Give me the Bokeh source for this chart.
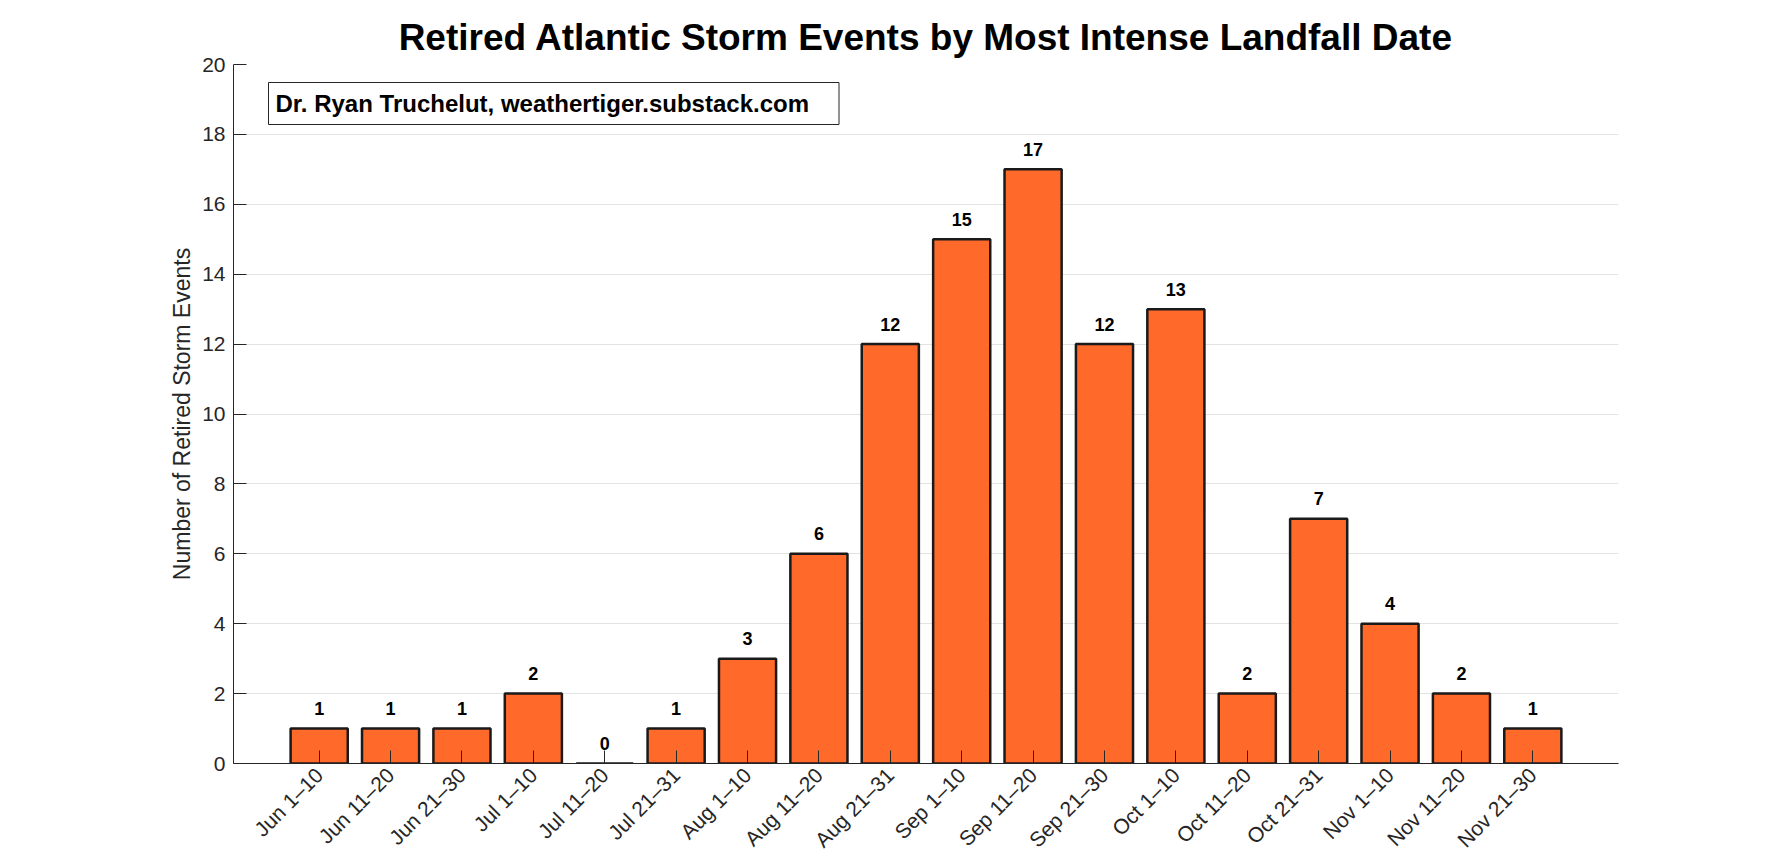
import math
from bokeh.plotting import figure
from bokeh.models import ColumnDataSource, Range1d, FixedTicker, Label
from bokeh.core.properties import value
from bokeh.embed import file_html
from bokeh.resources import INLINE

# ---- data ----
categories = ["Jun 1–10", "Jun 11–20", "Jun 21–30", "Jul 1–10", "Jul 11–20", "Jul 21–31",
              "Aug 1–10", "Aug 11–20", "Aug 21–31", "Sep 1–10", "Sep 11–20", "Sep 21–30",
              "Oct 1–10", "Oct 11–20", "Oct 21–31", "Nov 1–10", "Nov 11–20", "Nov 21–30"]
counts = [1, 1, 1, 2, 0, 1, 3, 6, 12, 15, 17, 12, 13, 2, 7, 4, 2, 1]
y_ticks = [0, 2, 4, 6, 8, 10, 12, 14, 16, 18, 20]
title_text = "Retired Atlantic Storm Events by Most Intense Landfall Date"
y_label = "Number of Retired Storm Events"
credit_text = "Dr. Ryan Truchelut, weathertiger.substack.com"

# ---- styling ----
FONT = "Liberation Sans"
AX = "#262626"
BAR_FILL = "#FF6929"
BAR_EDGE = "#1A1A1A"

xpos = list(range(len(categories)))
x_lo, x_hi = -1.2, len(categories) - 1 + 1.2
y_lo, y_hi = 0, 20

src = ColumnDataSource(dict(
    x=xpos,
    count=counts,
    label=[str(c) for c in counts],
))

p = figure(width=1780, height=862,
           x_range=Range1d(x_lo, x_hi), y_range=Range1d(y_lo, y_hi),
           output_backend="svg", toolbar_location=None,
           min_border_left=233, min_border_right=162,
           min_border_top=64, min_border_bottom=98)

p.outline_line_color = None
p.background_fill_color = "white"
p.border_fill_color = "white"

# title
p.title.text = title_text
p.title.text_font = FONT
p.title.text_font_size = "37px"
p.title.text_font_style = "bold"
p.title.text_color = "black"
p.title.align = "center"
p.title.standoff = 14

# bars
p.vbar(x="x", top="count", bottom=0, width=0.8, source=src,
       fill_color=BAR_FILL, line_color=BAR_EDGE, line_width=2.5)

# value labels
p.text(x="x", y="count", text="label", source=src,
       text_align="center", text_baseline="middle", y_offset=-20,
       text_font=value(FONT), text_font_style="bold", text_font_size="18px",
       text_color="black")

# x axis
p.xaxis.ticker = FixedTicker(ticks=xpos)
p.xaxis.major_label_overrides = {xi: cat for xi, cat in zip(xpos, categories)}
p.xaxis.major_label_orientation = math.pi / 4
p.xaxis.major_label_text_font = FONT
p.xaxis.major_label_text_font_size = "21px"
p.xaxis.major_label_text_color = AX
p.xaxis.major_label_standoff = 8
p.xaxis.major_tick_in = 13
p.xaxis.major_tick_out = 0
p.xaxis.minor_tick_line_color = None
p.xaxis.axis_line_color = AX
p.xaxis.major_tick_line_color = AX

# y axis
p.yaxis.ticker = FixedTicker(ticks=y_ticks)
p.yaxis.major_label_text_font = FONT
p.yaxis.major_label_text_font_size = "21px"
p.yaxis.major_label_text_color = AX
p.yaxis.major_label_standoff = 8
p.yaxis.major_tick_in = 13
p.yaxis.major_tick_out = 0
p.yaxis.minor_tick_line_color = None
p.yaxis.axis_line_color = AX
p.yaxis.major_tick_line_color = AX
p.yaxis.axis_label = y_label
p.yaxis.axis_label_text_font = FONT
p.yaxis.axis_label_text_font_size = "23px"
p.yaxis.axis_label_text_font_style = "normal"
p.yaxis.axis_label_text_color = AX
p.yaxis.axis_label_standoff = 4

# grid
p.xgrid.visible = False
p.ygrid.ticker = FixedTicker(ticks=y_ticks)
p.ygrid.grid_line_color = "#E3E3E3"
p.ygrid.grid_line_width = 1

# credit box
credit = Label(x=x_lo, y=y_hi, x_offset=35, y_offset=-39, text=credit_text,
               text_font=FONT, text_font_style="bold", text_font_size="24px",
               text_color="black", text_align="left", text_baseline="middle",
               border_line_color=AX, border_line_width=1,
               background_fill_color="white",
               padding=(7, 30, 7, 8))
p.add_layout(credit)

open("out.html", "w").write(file_html(p, INLINE))
